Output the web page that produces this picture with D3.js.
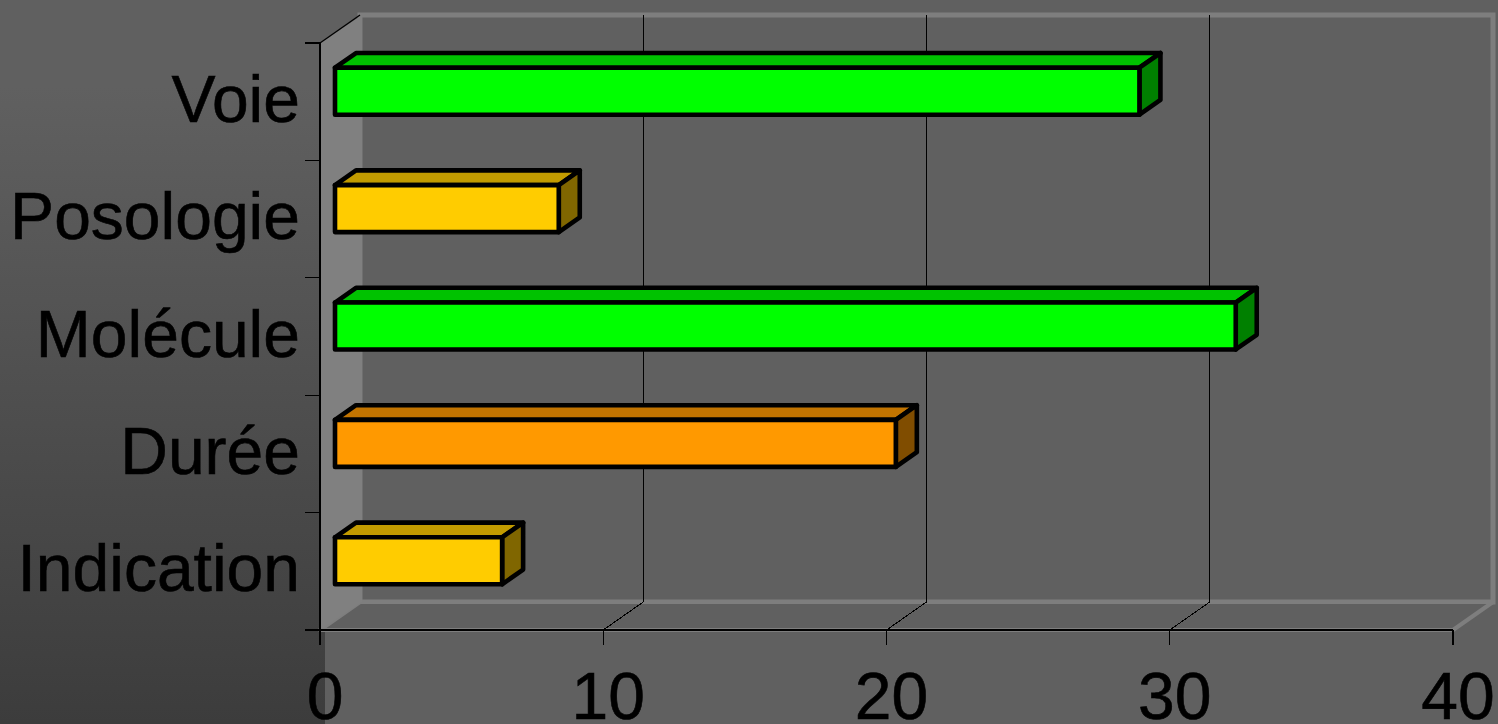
<!DOCTYPE html>
<html>
<head>
<meta charset="utf-8">
<script src="https://cdn.jsdelivr.net/npm/d3@7"></script>
<style>
  html, body { margin: 0; padding: 0; background: #606060; }
  svg { display: block; }
  text { font-family: "Liberation Sans", Arial, sans-serif; fill: #000; stroke: #000; stroke-width: 0.6; }
</style>
</head>
<body>
<svg id="chart" width="1498" height="724"></svg>
<script>
// Categories listed top to bottom, with their values and face colours
const categories = ["Voie", "Posologie", "Molécule", "Durée", "Indication"];
const values = [28.4, 7.9, 31.8, 19.8, 5.9];
const barColors = ["#00ff00", "#ffcc00", "#00ff00", "#ff9900", "#ffcc00"];
const xTicks = [0, 10, 20, 30, 40];

const W = 1498, H = 724;
const svg = d3.select("#chart");

// Oblique depth vector of the 3D box (front plane -> back wall)
const DX = 40, DY = -28;
const depth = f => [DX * f, DY * f];

const x = d3.scaleLinear().domain([0, 40]).range([320, 1453]);
const y = d3.scaleBand().domain(categories).range([43, 630])
  .paddingInner(0.6).paddingOuter(0.3);

const x0 = x(0), x1 = x(40), yTop = 43, yBot = 630;

// Background: darker gradient on the left margin, flat plot area on the right
const defs = svg.append("defs");
const grad = defs.append("linearGradient").attr("id", "bg")
  .attr("x1", 0).attr("y1", 0).attr("x2", 0).attr("y2", 1);
grad.append("stop").attr("offset", 0).attr("stop-color", "#606060");
grad.append("stop").attr("offset", 0.12).attr("stop-color", "#606060");
grad.append("stop").attr("offset", 1).attr("stop-color", "#3c3c3c");
svg.append("rect").attr("width", W).attr("height", H).attr("fill", "url(#bg)");
svg.append("rect").attr("x", 325).attr("y", 0).attr("width", W - 325).attr("height", H)
  .attr("fill", "#606060");

const pt = (px, py, f) => { const [dx, dy] = depth(f); return [px + dx, py + dy]; };
const line = d3.line();

// Back wall
svg.append("path")
  .attr("d", line([pt(x0, yTop, 1), pt(x1, yTop, 1), pt(x1, yBot, 1), pt(x0, yBot, 1)]) + "Z")
  .attr("fill", "#606060").attr("stroke", "#7e7e7e").attr("stroke-width", 5);

// Floor
svg.append("path")
  .attr("d", line([[x0, yBot], pt(x0, yBot, 1), pt(x1, yBot, 1), [x1, yBot]]) + "Z")
  .attr("fill", "#606060").attr("stroke", "#7e7e7e").attr("stroke-width", 4)
  .attr("stroke-linejoin", "round");

// Left side wall
svg.append("path")
  .attr("d", line([[x0, yBot], [x0, yTop], pt(x0 + 2, yTop, 1), pt(x0 + 2, yBot, 1)]) + "Z")
  .attr("fill", "#808080");

// Top edge of the side wall
svg.append("path")
  .attr("d", line([[x0, yTop], pt(x0, yTop, 1)]))
  .attr("stroke", "#000").attr("stroke-width", 1.3).attr("fill", "none");

// Value gridlines: across the floor and up the back wall
const inner = xTicks.filter(t => t > 0 && t < 40);
svg.append("g").selectAll("path").data(inner).join("path")
  .attr("d", t => line([[x(t), yBot], pt(x(t), yBot, 1), pt(x(t), yTop, 1)]))
  .attr("stroke", "#000").attr("stroke-width", 1).attr("fill", "none")
  .attr("shape-rendering", "crispEdges");

// 3D bars
const F0 = 0.375, F1 = 0.9;
const shade = (c, k) => { const r = d3.rgb(c); return d3.rgb(r.r * k, r.g * k, r.b * k).formatHex(); };
const bars = svg.append("g").selectAll("g").data(categories).join("g");
bars.each(function (cat, i) {
  const g = d3.select(this);
  const v = values[i], col = barColors[i];
  const [fx0, fy0] = pt(x(0), y(cat), F0);
  const [fx1, fy1] = pt(x(v), y(cat) + y.bandwidth(), F0);
  const [bdx, bdy] = [DX * (F1 - F0), DY * (F1 - F0)];
  const common = s => s.attr("stroke", "#000").attr("stroke-width", 4.6).attr("stroke-linejoin", "round");
  // top face
  common(g.append("path")
    .attr("d", line([[fx0, fy0], [fx1, fy0], [fx1 + bdx, fy0 + bdy], [fx0 + bdx, fy0 + bdy]]) + "Z")
    .attr("fill", shade(col, 0.76)));
  // end face
  common(g.append("path")
    .attr("d", line([[fx1, fy0], [fx1 + bdx, fy0 + bdy], [fx1 + bdx, fy1 + bdy], [fx1, fy1]]) + "Z")
    .attr("fill", shade(col, 0.5)));
  // front face
  common(g.append("path")
    .attr("d", line([[fx0, fy0], [fx1, fy0], [fx1, fy1], [fx0, fy1]]) + "Z")
    .attr("fill", col));
});

// Category axis with tick marks at band boundaries
const axisG = svg.append("g").attr("shape-rendering", "crispEdges");
axisG.append("line").attr("x1", x0).attr("x2", x0).attr("y1", yTop).attr("y2", yBot + 15)
  .attr("stroke", "#000").attr("stroke-width", 1.3);
const bounds = categories.map(c => y(c) - y.step() * y.paddingInner() / 2).concat([yBot]);
bounds[0] = yTop;
axisG.selectAll("line.tick").data(bounds).join("line").attr("class", "tick")
  .attr("x1", x0 - 15).attr("x2", x0).attr("y1", d => d).attr("y2", d => d)
  .attr("stroke", "#000").attr("stroke-width", 1.3);

// Value axis along the front edge of the floor
axisG.append("line").attr("x1", x0).attr("x2", x1).attr("y1", yBot).attr("y2", yBot)
  .attr("stroke", "#000").attr("stroke-width", 1.3);
axisG.selectAll("line.xt").data(xTicks).join("line").attr("class", "xt")
  .attr("x1", d => x(d)).attr("x2", d => x(d)).attr("y1", yBot).attr("y2", yBot + 15)
  .attr("stroke", "#000").attr("stroke-width", 1.3);

// Labels
svg.append("g").selectAll("text").data(categories).join("text")
  .attr("x", 300)
  .attr("y", c => y(c) + y.bandwidth() / 2 + 20)
  .attr("text-anchor", "end")
  .attr("font-size", 66)
  .text(c => c);

svg.append("g").selectAll("text").data(xTicks).join("text")
  .attr("x", d => x(d) + 5)
  .attr("y", 719)
  .attr("text-anchor", "middle")
  .attr("font-size", 66)
  .text(d => d);
</script>
</body>
</html>
